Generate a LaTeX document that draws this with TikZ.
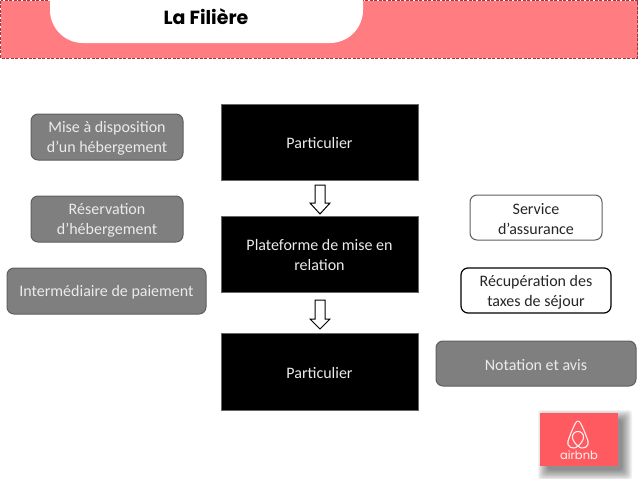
\documentclass[tikz,border=0pt]{standalone}
\usepackage{fontspec}
\setmainfont{Carlito}
\newfontfamily\titlefont{Poppins}
\newcommand{\lblup}{\rule{0pt}{14pt}}
\definecolor{band}{HTML}{FF7C80}
\definecolor{bandline}{HTML}{9A3A3E}
\definecolor{greybox}{HTML}{7F7F7F}
\definecolor{greyline}{HTML}{5F5F5F}
\definecolor{logored}{HTML}{FF5A5F}
\tikzset{
  x=1pt,y=-1pt,
  lbl/.style={font=\fontsize{16}{20}\selectfont,align=center,inner sep=0pt},
  round/.style={lbl,rounded corners=7pt,anchor=center},
  greyrole/.style={round,fill=greybox,draw=greyline,line width=1pt,text=white!92!black},
  whiterole/.style={round,fill=white,draw=greyline,line width=1pt,text=black!85},
  boldrole/.style={round,fill=white,draw=black,line width=1.2pt,text=black!85},
  blackbox/.style={lbl,fill=black,draw=black!60,line width=.5pt,text=white!92!black,minimum width=197pt},
  downarrow/.style={draw=black,fill=white,line width=1pt,line join=miter},
}
\begin{document}
\begin{tikzpicture}
\useasboundingbox (0,0) rectangle (638,479);
% header
\path[fill=band,draw=bandline,dash pattern=on 3pt off 1.5pt,line width=.9pt] (0.5,0.5) rectangle (637.5,58);
\fill[white,rounded corners=33pt] (50,-40) rectangle (363,43);
\node[font=\titlefont\bfseries\fontsize{19}{22}\selectfont,inner sep=0pt,anchor=base] (title) at (206,24) {La Filière};
% centre
\node[blackbox,minimum height=76pt] (p1) at (319.5,142) {\lblup Particulier};
\node[blackbox,minimum height=76pt] (p2) at (319.5,254) {\lblup Plateforme de mise en\\relation};
\node[blackbox,minimum height=77pt] (p3) at (319.5,371.5) {\lblup Particulier};
% block arrows
\coordinate (a1) at (320,185);
\coordinate (a2) at (320,300);
\draw[downarrow] (a1) ++(-5,0) -- ++(10,0) -- ++(0,18) -- ++(5,0) -- ++(-10,11) -- ++(-10,-11) -- ++(5,0) -- cycle;
\draw[downarrow] (a2) ++(-5,0) -- ++(10,0) -- ++(0,19) -- ++(5,0) -- ++(-10,10) -- ++(-10,-10) -- ++(5,0) -- cycle;
% left
\node[greyrole,minimum width=152pt,minimum height=46pt] (l1) at (107,137) {\lblup Mise à disposition\\d’un hébergement};
\node[greyrole,minimum width=152pt,minimum height=46pt] (l2) at (107,219) {\lblup Réservation\\d’hébergement};
\node[greyrole,minimum width=199pt,minimum height=46pt] (l3) at (106.5,291) {\lblup Intermédiaire de paiement};
% right
\node[whiterole,minimum width=132pt,minimum height=45pt] (r1) at (536,217.5) {\lblup Service\\d’assurance};
\node[boldrole,minimum width=150pt,minimum height=45pt] (r2) at (536,290.5) {\lblup Récupération des\\taxes de séjour};
\node[greyrole,minimum width=200pt,minimum height=45pt] (r3) at (536,363.5) {\lblup Notation et avis};
% logo shadow
\foreach \d in {10,9,...,0}{
  \fill[black,opacity=.05,rounded corners=3pt] (548-\d,420-\d) rectangle (622+\d,470+\d);
}
\node[fill=logored,minimum width=78pt,minimum height=53pt,inner sep=0pt] (logo) at (579,439.5) {};
\draw[white!90!logored,line width=1.1pt,line join=round]
  (578,446) .. controls (572,441) and (571,436) .. (574,433)
  .. controls (576,431) and (580,431) .. (582,433)
  .. controls (585,436) and (584,441) .. (578,446)
  .. controls (583,451) and (590,446) .. (588,441)
  .. controls (586,435) and (583,428) .. (581,424)
  .. controls (579,420) and (577,420) .. (575,424)
  .. controls (573,428) and (570,435) .. (568,441)
  .. controls (566,446) and (573,451) .. (578,446) -- cycle;
\node[font=\titlefont\fontsize{11.5}{12}\selectfont,text=white!92!logored,inner sep=0pt] (brand) at (579,455) {airbnb};
\end{tikzpicture}
\end{document}
